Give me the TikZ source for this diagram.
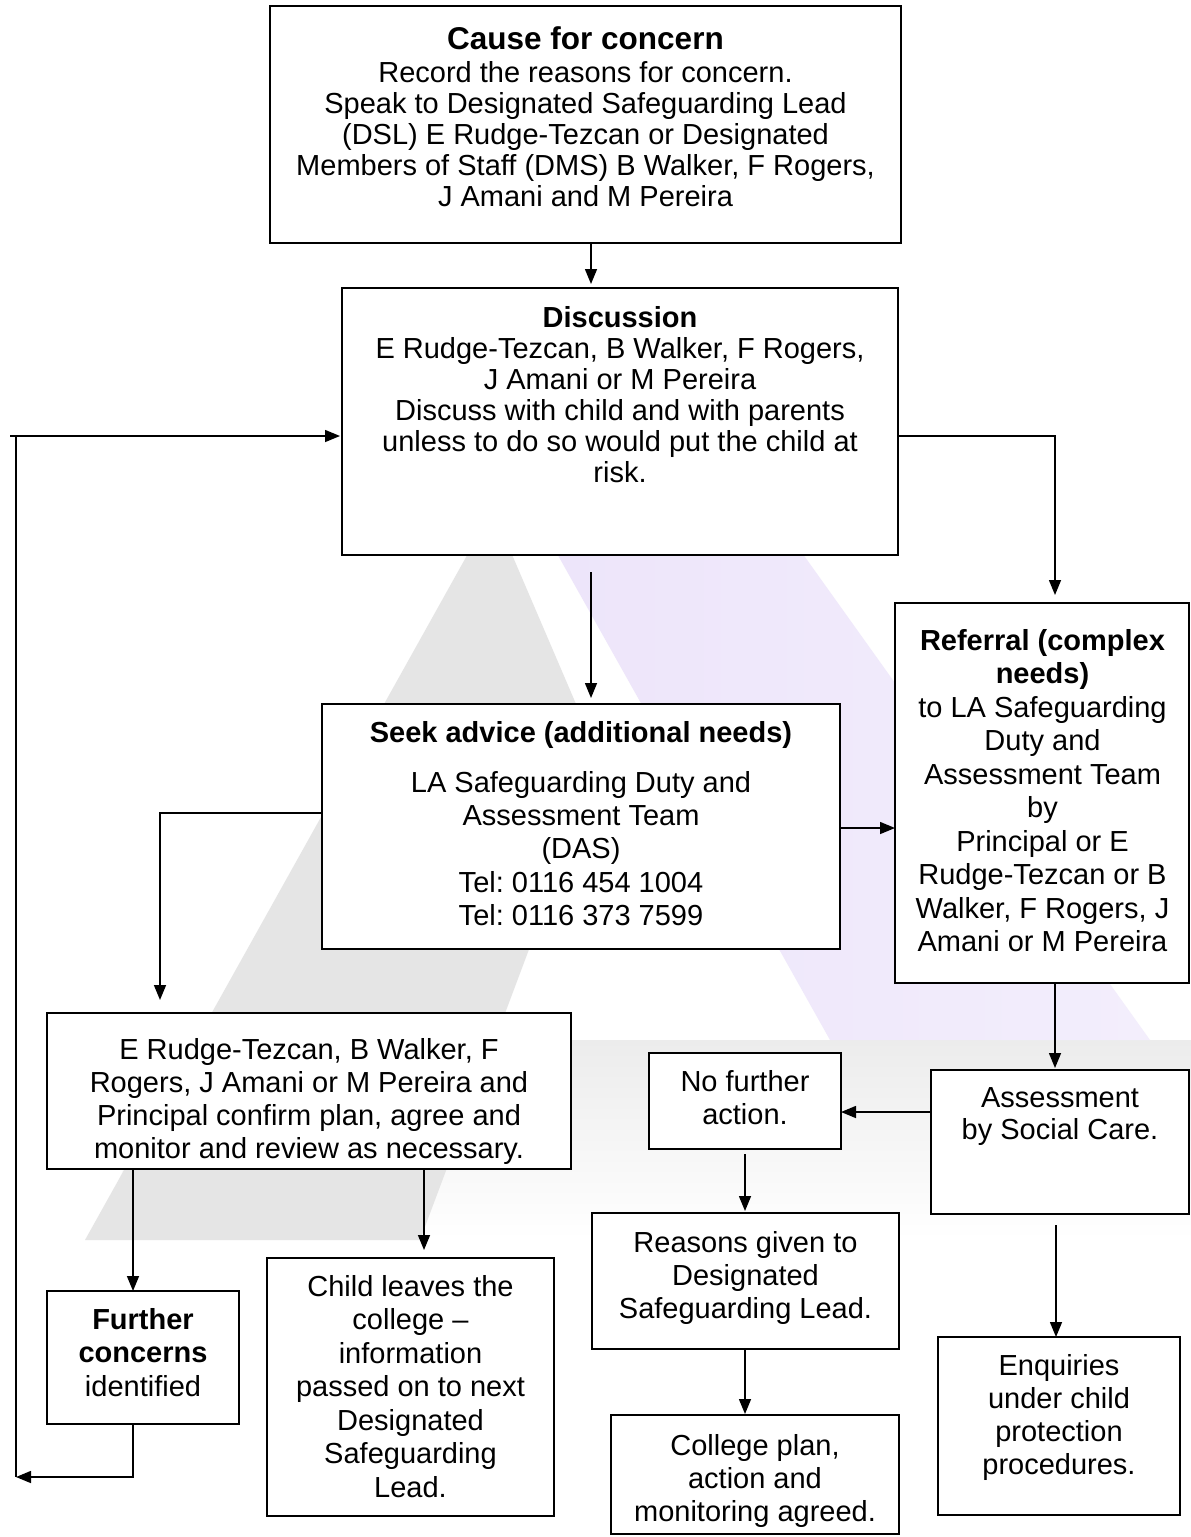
\documentclass[tikz,border=0pt]{standalone}
\usepackage{fontspec}
\setmainfont{Liberation Sans}
\usetikzlibrary{arrows.meta}
\definecolor{wmgray}{RGB}{229,229,229}
\definecolor{wmpurple}{RGB}{237,229,250}
\definecolor{wmpurplel}{RGB}{243,238,252}
\definecolor{wmband}{RGB}{236,236,236}
\frenchspacing
\begin{document}
\begin{tikzpicture}[x=1pt,y=1pt,
  bx/.style={draw, fill=white, line width=1.8pt, inner sep=0pt, outer sep=0pt, anchor=north west},
  tx/.style={align=center, inner sep=0pt, anchor=north, font=\fontsize{29}{33}\selectfont},
  arr/.style={line width=1.5pt, -{Triangle[length=15pt,width=12pt]}},
  ln/.style={line width=1.5pt}]
\useasboundingbox (0,0) rectangle (1191,-1537);
\fill[white] (0,0) rectangle (1191,-1537);
% faint watermark
\shade[top color=wmband, bottom color=white] (175,-1040) -- (1191,-1040) -- (1191,-1240) -- (95,-1240) -- cycle;
\fill[wmgray] (470,-550) -- (510,-550) -- (600,-760) -- (420,-1240) -- (85,-1240) -- cycle;
\shade[left color=wmpurple, right color=wmpurplel] (555,-550) -- (800,-550) -- (1150,-1040) -- (830,-1040) -- cycle;
% boxes
\node[bx, minimum width=631, minimum height=237] (A) at (270,-6) {};
\node[bx, minimum width=556, minimum height=267] (B) at (342,-288) {};
\node[bx, minimum width=518, minimum height=245] (C) at (322,-704) {};
\node[bx, minimum width=294, minimum height=380] (D) at (895,-603) {};
\node[bx, minimum width=524, minimum height=156] (E) at (47,-1013) {};
\node[bx, minimum width=192, minimum height=133] (F) at (47,-1291) {};
\node[bx, minimum width=287, minimum height=258] (G) at (267,-1258) {};
\node[bx, minimum width=192, minimum height=96] (H) at (649,-1053) {};
\node[bx, minimum width=258, minimum height=144] (I) at (931,-1070) {};
\node[bx, minimum width=307, minimum height=136] (J) at (592,-1213) {};
\node[bx, minimum width=288, minimum height=119] (K) at (611,-1415) {};
\node[bx, minimum width=242, minimum height=178] (L) at (938,-1337) {};
% texts
\node[tx, font=\fontsize{31.5}{34}\selectfont\bfseries] (At) at (585.5,-26) {Cause for concern};
\node[tx, font=\fontsize{29}{31}\selectfont] (Ab) at (585.5,-61) {Record the reasons for concern.\\Speak to Designated Safeguarding Lead\\(DSL) E Rudge-Tezcan or Designated\\Members of Staff (DMS) B Walker, F Rogers,\\J Amani and M Pereira};
\node[tx, font=\fontsize{29}{31}\selectfont] (Bt) at (620,-306) {\textbf{Discussion}\\E Rudge-Tezcan, B Walker, F Rogers,\\J Amani or M Pereira\\Discuss with child and with parents\\unless to do so would put the child at\\risk.};
\node[tx, font=\fontsize{29}{33}\selectfont\bfseries] (Ct) at (581,-721) {Seek advice (additional needs)};
\node[tx, font=\fontsize{29}{33.3}\selectfont] (Cb) at (581,-771) {LA Safeguarding Duty and\\Assessment Team\\(DAS)\\Tel: 0116 454 1004\\Tel: 0116 373 7599};
\node[tx, font=\fontsize{29}{33.5}\selectfont] (Dt) at (1042.5,-629) {\textbf{Referral (complex}\\\textbf{needs)}\\to LA Safeguarding\\Duty and\\Assessment Team\\by\\Principal or E\\Rudge-Tezcan or B\\Walker, F Rogers, J\\Amani or M Pereira};
\node[tx] (Et) at (309,-1038) {E Rudge-Tezcan, B Walker, F\\Rogers, J Amani or M Pereira and\\Principal confirm plan, agree and\\monitor and review as necessary.};
\node[tx, font=\fontsize{29}{33.5}\selectfont] (Ft) at (143,-1308) {\textbf{Further}\\\textbf{concerns}\\identified};
\node[tx, font=\fontsize{29}{33.5}\selectfont] (Gt) at (410.5,-1275) {Child leaves the\\college –\\information\\passed on to next\\Designated\\Safeguarding\\Lead.};
\node[tx] (Ht) at (745,-1070) {No further\\action.};
\node[tx, font=\fontsize{29}{32}\selectfont] (It) at (1060,-1087) {Assessment\\by Social Care.};
\node[tx] (Jt) at (745.5,-1231) {Reasons given to\\Designated\\Safeguarding Lead.};
\node[tx] (Kt) at (755,-1434) {College plan,\\action and\\monitoring agreed.};
\node[tx] (Lt) at (1059,-1354) {Enquiries\\under child\\protection\\procedures.};
% connector coordinates
\coordinate (c1) at (591,0);
\coordinate (bd) at (1055,-436);
\coordinate (lpt) at (10,-436);
\coordinate (lp) at (16,-436);
\coordinate (lpb) at (16,-1477);
\coordinate (fb) at (133,-1477);
\coordinate (cd) at (0,-828);
\coordinate (ce) at (160,-813);
\coordinate (ef) at (133,0);
\coordinate (eg) at (424,0);
\coordinate (di) at (1055,0);
\coordinate (ih) at (0,-1112);
\coordinate (hj) at (745,0);
\coordinate (il) at (1056,0);
% connectors
\draw[arr, shorten >=4pt] (A.south -| c1) -- (B.north -| c1);
\draw[arr, shorten <=17pt, shorten >=6pt] (B.south -| c1) -- (C.north -| c1);
\draw[arr, shorten >=8pt] (B.east |- bd) -- (bd) -- (D.north -| bd);
\draw[arr, shorten >=2pt] (lpt) -- (B.west |- lpt);
\draw[ln] (lp) -- (lpb);
\draw[arr] (F.south -| fb) -- (fb) -- (lpb);
\draw[arr] (C.east |- cd) -- (D.west |- cd);
\draw[arr, shorten >=13pt] (C.west |- ce) -- (ce) -- (E.north -| ce);
\draw[arr] (E.south -| ef) -- (F.north -| ef);
\draw[arr, shorten >=8pt] (E.south -| eg) -- (G.north -| eg);
\draw[arr, shorten >=2pt] (D.south -| di) -- (I.north -| di);
\draw[arr] (I.west |- ih) -- (H.east |- ih);
\draw[arr, shorten <=5pt, shorten >=2pt] (H.south -| hj) -- (J.north -| hj);
\draw[arr, shorten >=1pt] (J.south -| hj) -- (K.north -| hj);
\draw[arr, shorten <=11pt] (I.south -| il) -- (L.north -| il);
\end{tikzpicture}
\end{document}
